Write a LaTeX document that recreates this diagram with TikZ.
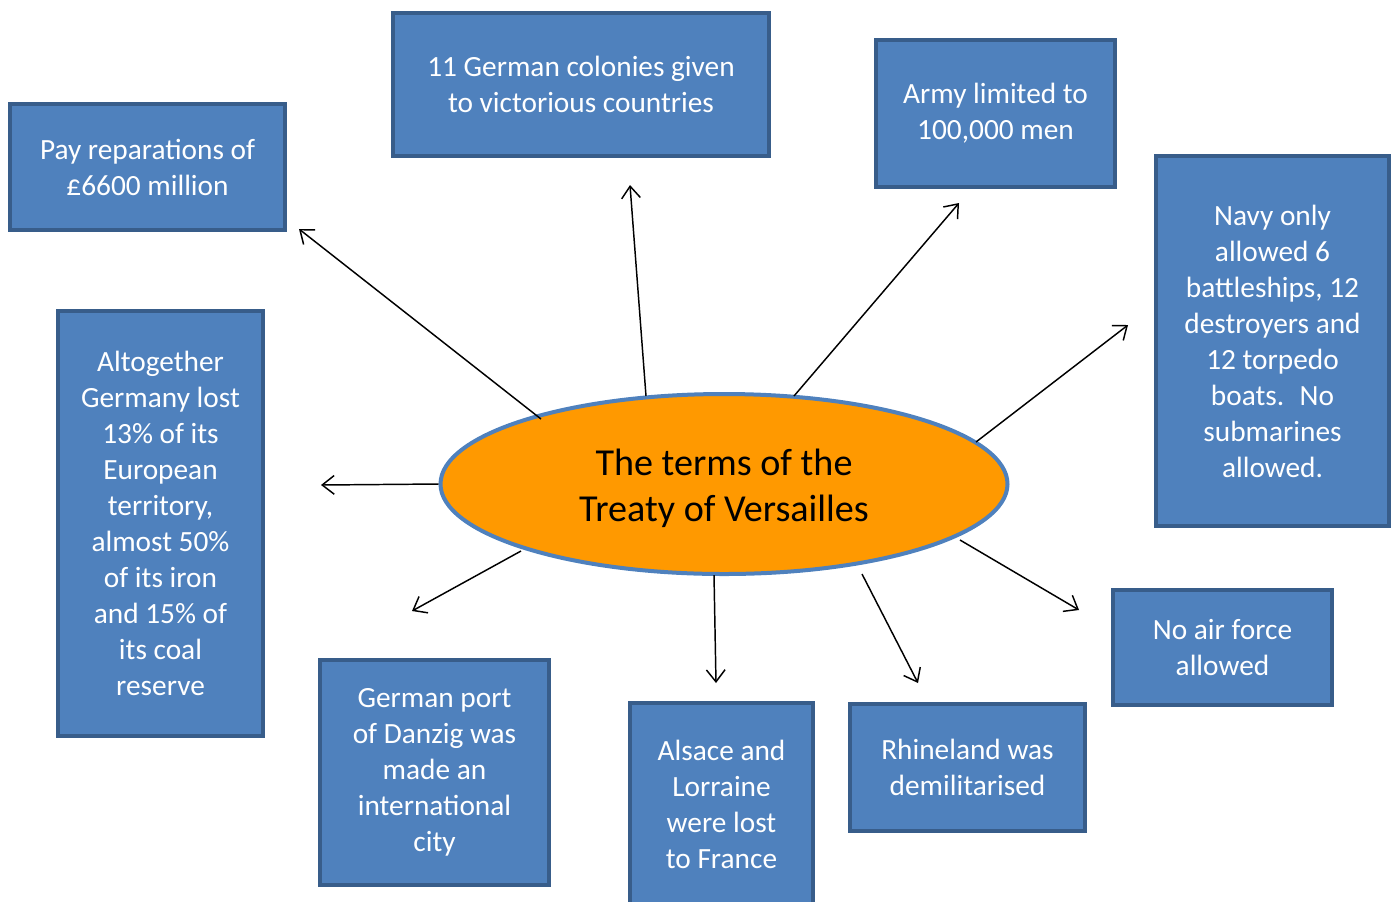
\documentclass[tikz,border=0pt]{standalone}
\usepackage{fontspec}
\setmainfont{Carlito}
\usetikzlibrary{arrows.meta,shapes.geometric,calc}
\definecolor{boxfill}{HTML}{4F81BD}
\definecolor{boxline}{HTML}{385D8A}
\definecolor{ellfill}{HTML}{FF9900}
\def\u{0.75pt}
\tikzset{
  term/.style={draw=boxline, fill=boxfill, line width=3pt, text=white, align=center,
    font=\fontsize{22}{27}\selectfont, inner sep=0pt},
  central/.style={ellipse, draw=boxfill, fill=ellfill, line width=3pt,
    inner sep=0pt, minimum width=567*\u, minimum height=180*\u},
  centraltext/.style={align=center, font=\fontsize{28.6}{34.5}\selectfont, inner sep=0pt},
  conn/.style={line width=1.1pt, -{Straight Barb[length=9pt,width=14pt,line width=1.1pt]}}
}
\begin{document}
\begin{tikzpicture}[x=\u, y=-\u]
\useasboundingbox (0,0) rectangle (1392,901);
\begin{scope}
\clip (0,0) rectangle (1392,901);
\node[term, minimum width=275*\u, minimum height=126*\u] (pay) at (147.5,167) {Pay reparations of\\£6600 million};
\node[term, minimum width=376*\u, minimum height=143*\u] (col) at (581,84) {11 German colonies given\\to victorious countries};
\node[term, minimum width=239*\u, minimum height=147*\u] (army) at (995.5,113.5) {Army limited to\\100,000 men};
\node[term, minimum width=233*\u, minimum height=370*\u] (navy) at (1272.5,341) {Navy only\\allowed 6\\battleships, 12\\destroyers and\\12 torpedo\\boats.~ No\\submarines\\allowed.};
\node[term, minimum width=205*\u, minimum height=425*\u] (alto) at (160.5,523) {Altogether\\Germany lost\\13\% of its\\European\\territory,\\almost 50\%\\of its iron\\and 15\% of\\its coal\\reserve};
\node[term, minimum width=229*\u, minimum height=225*\u] (danzig) at (434.5,772.5) {German port\\of Danzig was\\made an\\international\\city};
\node[term, minimum width=183*\u, minimum height=202*\u] (alsace) at (721.5,804) {Alsace and\\Lorraine\\were lost\\to France};
\node[term, minimum width=235*\u, minimum height=127*\u] (rhine) at (967.5,767.5) {Rhineland was\\demilitarised};
\node[term, minimum width=219*\u, minimum height=115*\u] (air) at (1222.5,647.5) {No air force\\allowed};
\end{scope}

\node[central] (e) at (724,484) {};
\node[centraltext] (etext) at (724,488) {The terms of the\\Treaty of Versailles};

\coordinate (tpay) at (299,229);
\coordinate (tcol) at (630,185);
\coordinate (tarmy) at (959,203);
\coordinate (tnavy) at (1128,325);
\coordinate (talto) at (321,485);
\coordinate (tdanzig) at (412,611);
\coordinate (talsace) at (716,683);
\coordinate (trhine) at (918,683);
\coordinate (tair) at (1079,610);

\draw[conn] ($(e.center)+(-183,-65)$) -- (tpay);
\draw[conn] ($(e.center)+(-78,-88)$) -- (tcol);
\draw[conn] ($(e.center)+(70,-88)$) -- (tarmy);
\draw[conn] ($(e.center)+(252,-42)$) -- (tnavy);
\draw[conn] (e.west) -- (talto);
\draw[conn] ($(e.center)+(-203,67)$) -- (tdanzig);
\draw[conn] ($(e.center)+(-10,91)$) -- (talsace);
\draw[conn] ($(e.center)+(138,90)$) -- (trhine);
\draw[conn] ($(e.center)+(236,56)$) -- (tair);
\end{tikzpicture}
\end{document}
